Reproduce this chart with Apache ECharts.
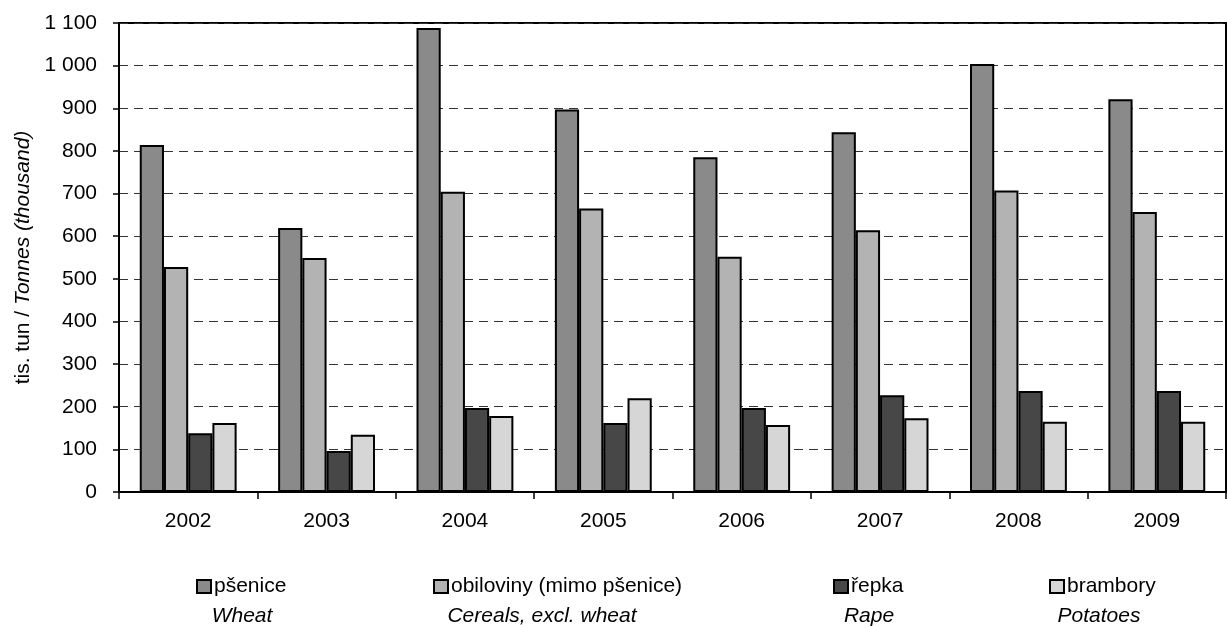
<!DOCTYPE html>
<html>
<head>
<meta charset="utf-8">
<script src="https://cdn.jsdelivr.net/npm/echarts@6/dist/echarts.min.js"></script>
<style>html,body{margin:0;padding:0;background:#fff}#c{width:1228px;height:628px}</style>
</head>
<body>
<div id="c"></div>
<script>
const years = ['2002','2003','2004','2005','2006','2007','2008','2009'];
const seriesNamesCz = ['pšenice','obiloviny (mimo pšenice)','řepka','brambory'];
const seriesNamesEn = ['Wheat','Cereals, excl. wheat','Rape','Potatoes'];
const wheat   = [814, 619, 1088, 897, 785, 844, 1004, 921];
const cereals = [528, 549, 704, 665, 552, 614, 707, 657];
const rape    = [138, 96, 197, 162, 197, 227, 237, 237];
const potatoes= [162, 134, 178, 220, 157, 173, 165, 165];
const yTicks  = [0,100,200,300,400,500,600,700,800,900,1000,1100];

const values = [wheat, cereals, rape, potatoes];
const fills = ['#8a8a8a', '#b3b3b3', '#474747', '#d6d6d6'];
const legendLeft = [196, 433, 833, 1049];
const enCenter = [242, 542, 869, 1099];

const font = 'Liberation Sans, Arial, sans-serif';
const FS = 21;
const chart = echarts.init(document.getElementById('c'));
const fmt = v => String(v).replace(/\B(?=(\d{3})+(?!\d))/g, ' ');

chart.setOption({
  animation: false,
  textStyle: { fontFamily: font },
  grid: { left: 119, right: 2, top: 23, bottom: 136, show: true, borderColor: '#000', borderWidth: 2, containLabel: false },
  xAxis: {
    type: 'category', data: years,
    axisLine: { lineStyle: { color: '#000', width: 2 } },
    axisTick: { show: true, length: 7, lineStyle: { color: '#000', width: 1.5 } },
    axisLabel: { color: '#000', fontSize: FS, margin: 19, fontFamily: font }
  },
  yAxis: {
    type: 'value', min: yTicks[0], max: yTicks[yTicks.length-1], interval: 100,
    name: '{a|tis. tun / }{b|Tonnes (thousand)}',
    nameLocation: 'middle', nameGap: 81, nameRotate: 90,
    nameTextStyle: { color: '#000', fontSize: FS, fontFamily: font,
      rich: { a: { fontSize: FS, color: '#000', fontFamily: font }, b: { fontSize: FS, color: '#000', fontStyle: 'italic', fontFamily: font } } },
    axisLine: { show: true, lineStyle: { color: '#000', width: 2 } },
    axisTick: { show: true, length: 6, inside: false, lineStyle: { color: '#000', width: 1.5 } },
    axisLabel: { color: '#000', fontSize: FS, margin: 22, fontFamily: font, formatter: v => fmt(v) },
    splitLine: { show: true, lineStyle: { color: '#333', width: 1.2, type: [9, 6] } }
  },
  legend: seriesNamesCz.map((n, i) => ({
    data: [n], left: legendLeft[i], top: 576, padding: 0, itemWidth: 14, itemHeight: 13, itemGap: 3,
    icon: 'rect', textStyle: { color: '#000', fontSize: FS, fontFamily: font, padding: [0,0,0,-2] },
    itemStyle: { borderColor: '#000', borderWidth: 2 }
  })),
  graphic: seriesNamesEn.map((t, i) => ({
    type: 'text', x: enCenter[i], y: 616,
    style: { text: t, fill: '#000', font: 'italic ' + FS + 'px ' + font, textAlign: 'center', textVerticalAlign: 'middle' }
  })),
  series: seriesNamesCz.map((n, i) => ({
    name: n, type: 'bar', data: values[i],
    barGap: '0%', barCategoryGap: '30%',
    itemStyle: { color: fills[i], borderColor: '#000', borderWidth: 2 }
  }))
});
</script>
</body>
</html>
